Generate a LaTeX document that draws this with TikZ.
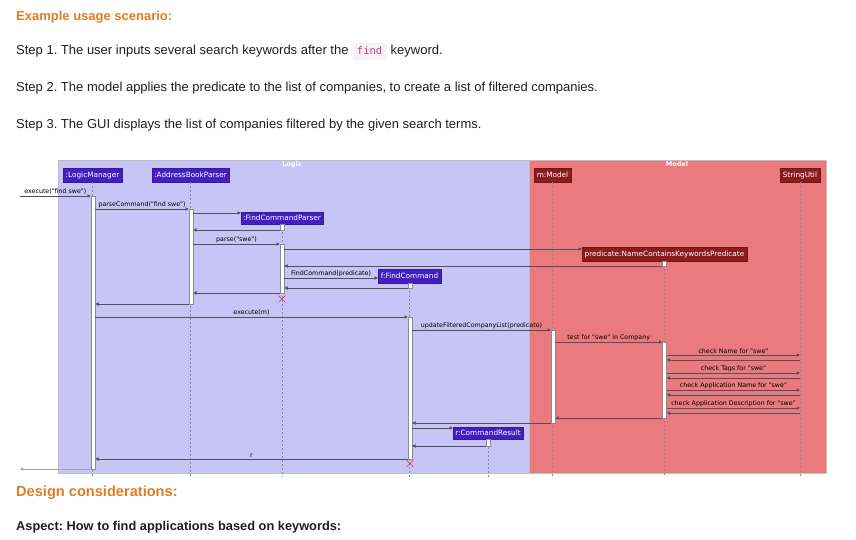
\documentclass[tikz,border=0pt]{standalone}
\usepackage{fontspec}
\setmainfont{Liberation Sans}
\setmonofont{DejaVu Sans Mono}
\newfontfamily\umlfont{DejaVu Sans}
\usetikzlibrary{arrows.meta,shapes.misc}

\definecolor{headorange}{RGB}{224,125,35}
\definecolor{bodytext}{RGB}{30,30,30}
\definecolor{codepink}{RGB}{214,51,132}
\definecolor{codebg}{RGB}{244,244,245}
\definecolor{logicbg}{RGB}{200,196,245}
\definecolor{modelbg}{RGB}{234,122,126}
\definecolor{logichead}{RGB}{66,32,192}
\definecolor{modelhead}{RGB}{140,28,28}
\definecolor{msgline}{RGB}{80,80,95}
\definecolor{lifegray}{RGB}{140,140,150}
\definecolor{destroy}{RGB}{200,50,90}

% activation bar: name, x, top y, bottom y
\newcommand\actbar[4]{\node[actbar, minimum height={(#4-#3)*1pt}] (#1) at (#2,{(#3+#4)/2}) {};}

\frenchspacing
\begin{document}
\begin{tikzpicture}[x=1pt,y=-1pt,
  heading/.style={anchor=base west, inner sep=0, text=headorange, font=\fontsize{13}{15}\selectfont\bfseries},
  bigheading/.style={heading, font=\fontsize{14.6}{17}\selectfont\bfseries},
  bodyline/.style={anchor=base west, inner sep=0, text=bodytext, font=\fontsize{13}{15}\selectfont},
  aspect/.style={anchor=base west, inner sep=0, text=bodytext, font=\fontsize{12.8}{15}\selectfont\bfseries},
  codebox/.style={anchor=base west, fill=codebg, rounded corners=2pt, text=codepink,
    font=\ttfamily\fontsize{10.5}{12}\selectfont, inner xsep=4pt, inner ysep=3pt, text height=9pt, text depth=2pt},
  groupbox/.style={draw=black!25, line width=0.5pt},
  grouptitle/.style={text=white, font=\umlfont\fontsize{6.5}{7}\selectfont\bfseries, inner sep=0},
  participant/.style={rectangle, text=white, font=\umlfont\fontsize{7.3}{8}\selectfont, inner sep=0, minimum height=14pt},
  logicpart/.style={participant, fill=logichead, draw=logichead!80!black, line width=0.4pt},
  modelpart/.style={participant, fill=modelhead, draw=modelhead!80!black, line width=0.4pt},
  lifeline/.style={draw=lifegray, dash pattern=on 2pt off 2pt, line width=0.4pt},
  actbar/.style={rectangle, draw=black!45, fill=white, minimum width=4pt, inner sep=0, line width=0.6pt},
  msg/.style={draw=msgline, line width=0.5pt, -{Triangle[length=3.2pt,width=3.2pt]}},
  lbl/.style={font=\umlfont\fontsize{6.3}{7}\selectfont, text=black, inner sep=0, above=1.3pt, midway},
  killmark/.style={cross out, draw=destroy, line width=0.6pt, minimum size=6pt, inner sep=0}
]
\useasboundingbox (0,0) rectangle (856,540);

% ---- text above the diagram ----
\node[heading] (title) at (16,21) {Example usage scenario:};
\node[bodyline] (step1) at (16,55) {Step 1. The user inputs several search keywords after the};
\node[codebox] (code) at ([xshift=4pt]step1.base east) {find};
\node[bodyline] (step1b) at ([xshift=4pt]code.base east) {keyword.};
\node[bodyline] (step2) at (16,92) {Step 2. The model applies the predicate to the list of companies, to create a list of filtered companies.};
\node[bodyline] (step3) at (16,129) {Step 3. The GUI displays the list of companies filtered by the given search terms.};

% ---- groups ----
\fill[logicbg] (58,160) rectangle (529,473);
\fill[modelbg] (529,160) rectangle (826,473);
\draw[groupbox] (58,160) rectangle (826,473);
\draw[groupbox] (529,160) -- (529,473);
\node[grouptitle] (logictitle) at (292,164.5) {Logic};
\node[grouptitle] (modeltitle) at (677,164) {Model};

% ---- participants ----
\node[logicpart, minimum width=59pt] (LM) at (92.5,175) {:LogicManager};
\node[logicpart, minimum width=77pt] (ABP) at (190.5,175) {:AddressBookParser};
\node[modelpart, minimum width=37pt] (MM) at (552.5,175) {m:Model};
\node[modelpart, minimum width=40pt] (SU) at (800,175) {StringUtil};
\node[logicpart, minimum width=82pt, minimum height=12pt] (FCP) at (282,218) {:FindCommandParser};
\node[modelpart, minimum width=165pt] (PR) at (664.5,254) {predicate:NameContainsKeywordsPredicate};
\node[logicpart, minimum width=63pt] (FC) at (409.5,276) {f:FindCommand};
\node[logicpart, minimum width=70pt, minimum height=12pt] (CR) at (488,433) {r:CommandResult};

% ---- lifelines ----
\foreach \p in {LM,ABP,MM,SU,FCP,PR,FC,CR}
  \draw[lifeline] (\p.south) -- (\p.south |- 0,477);

% ---- activations ----
\actbar{LMa}{93}{196}{469}
\actbar{ABPa}{191}{209}{304}
\actbar{FCPa0}{282}{224}{230}
\actbar{FCPa}{282}{244}{293}
\actbar{PRa0}{664.5}{261}{266}
\actbar{FCa0}{410}{283}{288}
\actbar{FCa}{410}{317}{459}
\actbar{MMa}{553}{330}{423}
\actbar{PRa}{664.5}{342}{418}
\actbar{CRa0}{488}{439}{446}

\coordinate (entry) at (20,196);
\coordinate (exit) at (20,469);

% ---- messages ----
\draw[msg] (entry) -- (LMa.west |- 0,196) node[lbl] {execute("find swe")};
\draw[msg] (LMa.east |- 0,209) -- (ABPa.west |- 0,209) node[lbl] {parseCommand("find swe")};
\draw[msg] (ABPa.east |- 0,213) -- (FCP.west |- 0,213);
\draw[msg] (FCPa0.west |- 0,230) -- (ABPa.east |- 0,230);
\draw[msg] (ABPa.east |- 0,244) -- (FCPa.west |- 0,244) node[lbl] {parse("swe")};
\draw[msg] (FCPa.east |- 0,249) -- (PR.west |- 0,249);
\draw[msg] (PRa0.west |- 0,266) -- (FCPa.east |- 0,266);
\draw[msg] (FCPa.east |- 0,278) -- (FC.west |- 0,278) node[lbl] {FindCommand(predicate)};
\draw[msg] (FCa0.west |- 0,288) -- (FCPa.east |- 0,288);
\draw[msg] (FCPa.west |- 0,293) -- (ABPa.east |- 0,293);
\node[killmark] (FCPx) at (282,299) {};
\draw[msg] (ABPa.west |- 0,304) -- (LMa.east |- 0,304);
\draw[msg] (LMa.east |- 0,317) -- (FCa.west |- 0,317) node[lbl] {execute(m)};
\draw[msg] (FCa.east |- 0,330) -- (MMa.west |- 0,330) node[lbl] {updateFilteredCompanyList(predicate)};
\draw[msg] (MMa.east |- 0,342) -- (PRa.west |- 0,342) node[lbl] {test for "swe" in Company};
\draw[msg] (PRa.east |- 0,355) -- (SU.south |- 0,355) node[lbl] {check Name for "swe"};
\draw[msg] (SU.south |- 0,360) -- (PRa.east |- 0,360);
\draw[msg] (PRa.east |- 0,373) -- (SU.south |- 0,373) node[lbl] {check Tags for "swe"};
\draw[msg] (SU.south |- 0,378) -- (PRa.east |- 0,378);
\draw[msg] (PRa.east |- 0,390) -- (SU.south |- 0,390) node[lbl] {check Application Name for "swe"};
\draw[msg] (SU.south |- 0,395) -- (PRa.east |- 0,395);
\draw[msg] (PRa.east |- 0,408) -- (SU.south |- 0,408) node[lbl] {check Application Description for "swe"};
\draw[msg] (SU.south |- 0,413) -- (PRa.east |- 0,413);
\draw[msg] (PRa.west |- 0,418) -- (MMa.east |- 0,418);
\draw[msg] (MMa.west |- 0,423) -- (FCa.east |- 0,423);
\draw[msg] (FCa.east |- 0,428) -- (CR.west |- 0,428);
\draw[msg] (CRa0.west |- 0,446) -- (FCa.east |- 0,446);
\draw[msg] (FCa.west |- 0,459) -- (LMa.east |- 0,459) node[lbl] {r};
\node[killmark] (FCx) at (410,463.5) {};
\draw[msg, draw=black!35] (LMa.west |- 0,469) -- (exit);

% ---- text below the diagram ----
\node[bigheading] (design) at (16,496.5) {Design considerations:};
\node[aspect] (aspectline) at (16,530) {Aspect: How to find applications based on keywords:};
\end{tikzpicture}
\end{document}
